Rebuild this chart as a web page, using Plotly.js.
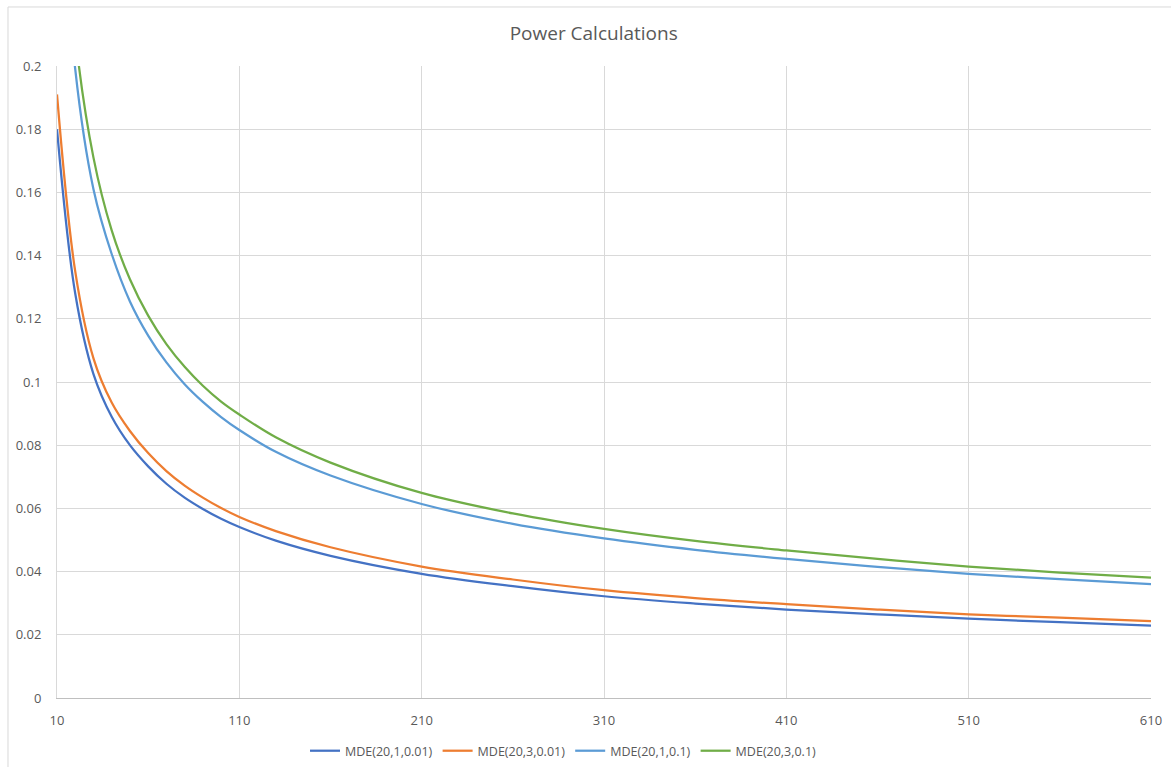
<!DOCTYPE html>
<html>
<head>
<meta charset="utf-8">
<script src="https://cdn.plot.ly/plotly-3.0.1.min.js"></script>
<style>
html,body{margin:0;padding:0;background:#fff;}
#chart{width:1171px;height:767px;}
</style>
</head>
<body>
<div id="chart"></div>
<script>
// Sample sizes (x axis)
const sampleSizes = [10, 20, 30, 40, 50, 60, 70, 80, 90, 100, 110, 130, 160, 210, 260, 310, 360, 410, 460, 510, 560, 610];

// Series values
const mde_20_1_001 = [0.180, 0.128, 0.1025, 0.0890, 0.0800, 0.0733, 0.0678, 0.0634, 0.0598, 0.0567, 0.0541, 0.0498, 0.0450, 0.0393, 0.0354, 0.0322, 0.0299, 0.0280, 0.0265, 0.0251, 0.0240, 0.0229];
const mde_20_3_001 = [0.191, 0.135, 0.1075, 0.0935, 0.0845, 0.0775, 0.0718, 0.0672, 0.0634, 0.0601, 0.0573, 0.0528, 0.0477, 0.0416, 0.0375, 0.0341, 0.0316, 0.0297, 0.0280, 0.0265, 0.0254, 0.0243];
const mde_20_1_01  = [0.281, 0.199, 0.161, 0.1405, 0.1255, 0.1147, 0.1062, 0.0993, 0.0937, 0.0889, 0.0848, 0.0779, 0.0704, 0.0614, 0.0551, 0.0505, 0.0469, 0.0440, 0.0415, 0.0393, 0.0376, 0.0360];
const mde_20_3_01  = [0.297, 0.210, 0.171, 0.1480, 0.1325, 0.1210, 0.1120, 0.1048, 0.0988, 0.0938, 0.0897, 0.0825, 0.0745, 0.0649, 0.0584, 0.0535, 0.0497, 0.0467, 0.0440, 0.0416, 0.0397, 0.0381];

const seriesNames = ["MDE(20,1,0.01)", "MDE(20,3,0.01)", "MDE(20,1,0.1)", "MDE(20,3,0.1)"];
const seriesColors = ["#4472C4", "#ED7D31", "#5B9BD5", "#70AD47"];
const seriesData = [mde_20_1_001, mde_20_3_001, mde_20_1_01, mde_20_3_01];

const xTickVals = [10, 110, 210, 310, 410, 510, 610];
const xTickLabels = ["10", "110", "210", "310", "410", "510", "610"];
const yTickVals = [0, 0.02, 0.04, 0.06, 0.08, 0.1, 0.12, 0.14, 0.16, 0.18, 0.2];
const yTickLabels = ["0", "0.02", "0.04", "0.06", "0.08", "0.1", "0.12", "0.14", "0.16", "0.18", "0.2"];

const FONT = "Open Sans, Liberation Sans, sans-serif";
const TXT = "#595959";

const traces = seriesData.map((ys, i) => ({
  type: "scatter",
  mode: "lines",
  name: seriesNames[i],
  x: sampleSizes,
  y: ys,
  line: {color: seriesColors[i], width: 2.25, shape: "spline", smoothing: 1},
  hoverinfo: "x+y+name"
}));

const layout = {
  width: 1171,
  height: 767,
  paper_bgcolor: "#ffffff",
  plot_bgcolor: "#ffffff",
  margin: {l: 57, r: 20, t: 66, b: 69, autoexpand: false},
  font: {family: FONT, color: TXT, size: 12},
  title: {
    text: "Power Calculations",
    font: {family: FONT, size: 19, color: TXT},
    x: 0.507, xanchor: "center", xref: "container",
    y: 1 - 33/767, yanchor: "middle", yref: "container"
  },
  xaxis: {
    range: [10, 610],
    tickmode: "array",
    tickvals: xTickVals,
    ticktext: xTickLabels,
    showgrid: true,
    gridcolor: "#d9d9d9",
    gridwidth: 1,
    zeroline: false,
    showline: true,
    linecolor: "#bfbfbf",
    linewidth: 1,
    ticks: "",
    ticklabelstandoff: 10,
    tickfont: {family: FONT, size: 13, color: TXT},
    fixedrange: true
  },
  yaxis: {
    range: [0, 0.2],
    tickmode: "array",
    tickvals: yTickVals,
    ticktext: yTickLabels,
    showgrid: true,
    gridcolor: "#d9d9d9",
    gridwidth: 1,
    zeroline: false,
    showline: true,
    linecolor: "#d9d9d9",
    linewidth: 1,
    ticks: "",
    ticklabelstandoff: 12,
    tickfont: {family: FONT, size: 13, color: TXT},
    fixedrange: true
  },
  showlegend: true,
  legend: {
    orientation: "h",
    x: 0.463, xanchor: "center",
    y: -0.084, yanchor: "middle",
    font: {family: FONT, size: 12.5, color: TXT},
    bgcolor: "rgba(0,0,0,0)",
    itemwidth: 30,
    traceorder: "normal"
  },
  shapes: [{
    type: "rect", xref: "paper", yref: "paper",
    x0: -0.0448, x1: 1.05, y0: -0.3, y1: 1.0934,
    line: {color: "#d9d9d9", width: 1},
    fillcolor: "rgba(0,0,0,0)",
    layer: "below"
  }]
};

Plotly.newPlot("chart", traces, layout, {displayModeBar: false, staticPlot: true});
</script>
</body>
</html>
